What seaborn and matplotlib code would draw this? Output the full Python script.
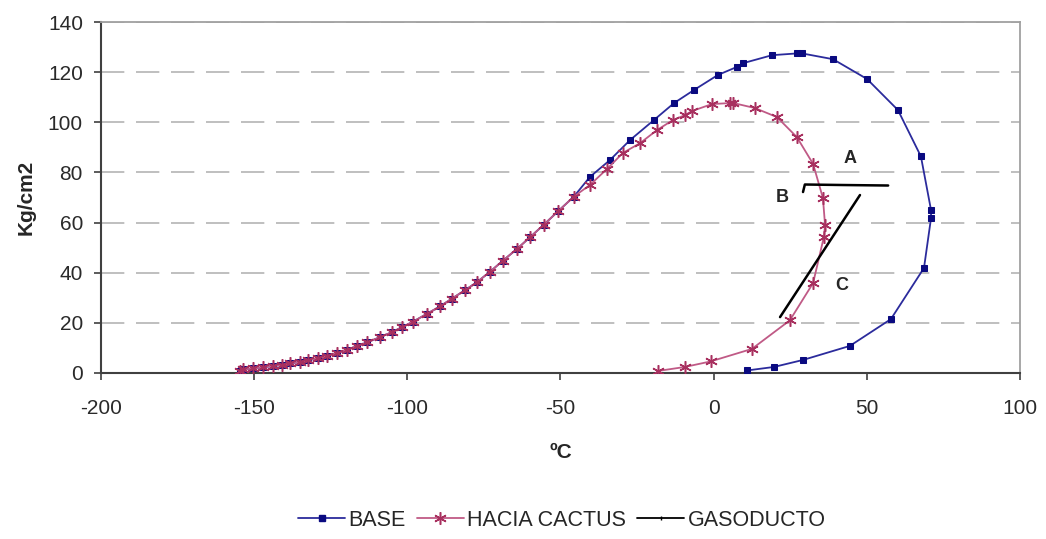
import numpy as np
import pandas as pd
import matplotlib
matplotlib.use("Agg")
import matplotlib.pyplot as plt
from matplotlib.lines import Line2D
import seaborn as sns

# lower branch shared by both envelopes (temperature ºC, pressure kg/cm2)
low_t = [-154.6, -153.6, -150.4, -147.1, -143.8, -140.9, -138.3, -135.0, -132.4, -129.2,
         -126.2, -123.0, -119.7, -116.4, -113.2, -108.9, -105.0, -101.7, -98.1, -93.6,
         -89.3, -85.4, -81.2, -77.2, -73.0, -68.8, -64.2, -59.9, -55.4, -50.8, -45.6]
low_p = [0.8, 1.4, 1.8, 2.3, 2.8, 3.2, 3.8, 4.4, 5.1, 5.9,
         6.8, 7.9, 9.3, 10.7, 12.2, 14.3, 16.3, 18.3, 20.5, 23.6,
         26.6, 29.7, 33.0, 36.3, 40.4, 44.8, 49.5, 54.2, 59.2, 64.5, 70.4]

base_up_t = [-40.4, -33.8, -27.3, -19.5, -12.9, -6.4, 1.4, 7.6, 9.6, 19.1, 27.2, 28.9,
             39.0, 50.1, 60.2, 67.7, 71.0, 71.0, 68.7, 57.9, 44.5, 29.2, 19.7, 10.9]
base_up_p = [78.2, 85.0, 92.9, 100.9, 107.7, 112.9, 118.9, 122.1, 123.6, 126.8, 127.5, 127.5,
             125.2, 117.3, 104.9, 86.4, 65.0, 61.8, 41.9, 21.5, 10.8, 5.2, 2.4, 1.0]

cactus_up_t = [-40.4, -34.8, -29.6, -24.0, -18.5, -13.3, -9.3, -7.1, -0.5, 5.5, 6.5, 13.5,
               20.7, 27.2, 32.5, 35.7, 36.4, 36.0, 32.5, 24.9, 12.5, -1.0, -9.4, -18.2]
cactus_up_p = [75.0, 81.4, 87.8, 91.7, 96.9, 100.9, 102.9, 104.5, 107.3, 107.7, 107.7, 105.7,
               102.1, 94.1, 83.4, 69.8, 59.0, 54.2, 35.9, 21.0, 9.6, 4.6, 2.4, 0.8]

base_t = low_t + base_up_t
base_p = low_p + base_up_p
cactus_t = low_t + cactus_up_t
cactus_p = low_p + cactus_up_p

# gas pipeline path: B -> A and C segment
gas_t = [29.2, 29.8, 42.0, 57.0, 47.8, 21.7]
gas_p = [72.2, 75.2, 75.0, 74.8, 71.0, 22.3]
gas_seg = [0, 0, 0, 0, 1, 1]

sns.set_style("white")
plt.rcParams['font.family'] = ['Liberation Sans', 'DejaVu Sans']
plt.rcParams['axes.unicode_minus'] = False

fig = plt.figure(figsize=(10.46, 5.39), dpi=100)
ax = fig.add_axes([0.0966, 0.308, 0.8784, 0.651])

blue_line = '#2b2b9c'
blue_mark = '#0a0a80'
pink_line = '#c05a86'
pink_mark = '#a8305f'

df_base = pd.DataFrame({'t': base_t, 'p': base_p})
df_cac = pd.DataFrame({'t': cactus_t, 'p': cactus_p})
df_gas = pd.DataFrame({'t': gas_t, 'p': gas_p, 'seg': gas_seg})

sns.lineplot(data=df_base, x='t', y='p', sort=False, estimator=None, ax=ax,
             color=blue_line, lw=1.3, marker='s', markersize=5,
             markerfacecolor=blue_mark, markeredgecolor=blue_mark, zorder=3)
sns.lineplot(data=df_cac, x='t', y='p', sort=False, estimator=None, ax=ax,
             color=pink_line, lw=1.3, marker=(6, 2, 0), markersize=9,
             markeredgewidth=1.1, markeredgecolor=pink_mark, zorder=4)
sns.lineplot(data=df_gas, x='t', y='p', units='seg', sort=False, estimator=None, ax=ax,
             color='black', lw=1.8, zorder=5)

ax.text(44.5, 85.5, 'A', fontsize=13, fontweight='bold', ha='center', va='center')
ax.text(22.3, 70.0, 'B', fontsize=13, fontweight='bold', ha='center', va='center')
ax.text(41.9, 35.0, 'C', fontsize=13, fontweight='bold', ha='center', va='center')

ax.set_xlim(-200, 100)
ax.set_ylim(0, 140)
ax.set_xticks(np.arange(-200, 101, 50))
ax.set_yticks(np.arange(0, 141, 20))
ax.yaxis.grid(True, color='#b4b4b4', lw=1.2, dashes=(14, 7))
ax.xaxis.grid(False)
ax.set_axisbelow(True)

for s in ['left', 'bottom']:
    ax.spines[s].set_color('#404040')
    ax.spines[s].set_linewidth(1.5)
for s in ['top', 'right']:
    ax.spines[s].set_color('#a0a0a0')
    ax.spines[s].set_linewidth(1.3)

ax.tick_params(axis='both', direction='out', length=5, width=1.2, color='#404040',
               labelsize=15, labelcolor='#2a2a2a')
ax.tick_params(axis='x', pad=14)
ax.tick_params(axis='y', pad=8)
ax.tick_params(axis='both', which='both', left=True, bottom=True)

ax.set_xlabel('ºC', fontsize=15, fontweight='bold', labelpad=18)
ax.set_ylabel('Kg/cm2', fontsize=15, fontweight='bold', labelpad=9)

handles = [
    Line2D([], [], color=blue_line, lw=1.3, marker='s', markersize=5,
           markerfacecolor=blue_mark, markeredgecolor=blue_mark),
    Line2D([], [], color=pink_line, lw=1.3, marker=(6, 2, 0), markersize=9,
           markeredgewidth=1.1, markeredgecolor=pink_mark),
    Line2D([], [], color='black', lw=1.3, marker='|', markersize=3),
]
fig.legend(handles, ['BASE', 'HACIA CACTUS', 'GASODUCTO'], loc='center',
           bbox_to_anchor=(0.537, 0.035), ncol=3, frameon=False, fontsize=15.5,
           handlelength=2.2, handletextpad=0.15, columnspacing=0.5)

fig.savefig('out.png', dpi=100)
